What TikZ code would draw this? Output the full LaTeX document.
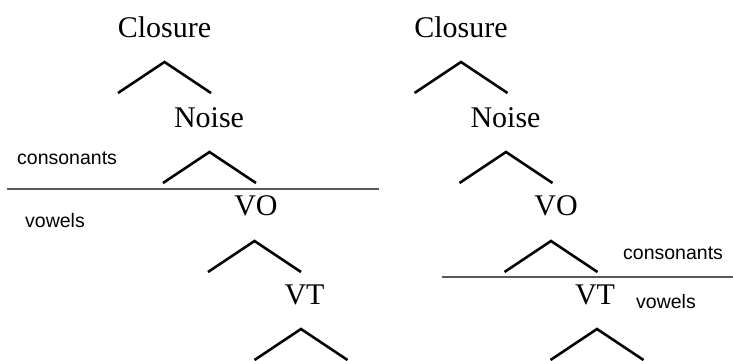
\documentclass[tikz,border=0pt]{standalone}
\usepackage{fontspec}
\setmainfont{Liberation Serif}
\setsansfont{Liberation Sans}
\begin{document}
\begin{tikzpicture}[x=1pt,y=-1pt,
  label/.style={font=\fontsize{30}{30}\selectfont, inner sep=0pt, anchor=base},
  side/.style={font=\sffamily\fontsize{19.5}{19.5}\selectfont, inner sep=0pt, anchor=base west},
  caret/.style={line width=2.6pt, line join=miter},
  divider/.style={line width=1.4pt, draw=black!65}]
\useasboundingbox (0,0) rectangle (733,360);
\clip (0,0) rectangle (733,360);

% left tree
\node[label] (lc) at (164.5,37) {Closure};
\node[label] (ln) at (209,127.5) {Noise};
\node[label] (lvo) at (256,215.5) {VO};
\node[label] (lvt) at (304.5,304.5) {VT};
\coordinate (la1) at (164.5,62);
\coordinate (la2) at (209.5,152);
\coordinate (la3) at (254.5,241);
\coordinate (la4) at (301,329);
\foreach \a in {la1,la2,la3,la4}
  \draw[caret] (\a) ++(-46.5,31) -- (\a) -- ++(46.5,31);
\node[side] (lcons) at (17,164.5) {consonants};
\node[side] (lvow) at (25,227.5) {vowels};
\coordinate (ld1) at (7,189);
\coordinate (ld2) at (379,189);
\draw[divider] (ld1) -- (ld2);

% right tree
\node[label] (rc) at (461,37) {Closure};
\node[label] (rn) at (505.5,127.5) {Noise};
\node[label] (rvo) at (556,215.5) {VO};
\node[label] (rvt) at (595,304.5) {VT};
\coordinate (ra1) at (461,62);
\coordinate (ra2) at (506,152);
\coordinate (ra3) at (551,241);
\coordinate (ra4) at (597,329);
\foreach \a in {ra1,ra2,ra3,ra4}
  \draw[caret] (\a) ++(-46.5,31) -- (\a) -- ++(46.5,31);
\node[side] (rcons) at (623,259) {consonants};
\node[side] (rvow) at (636,308) {vowels};
\coordinate (rd1) at (442,277);
\coordinate (rd2) at (733,277);
\draw[divider] (rd1) -- (rd2);
\end{tikzpicture}
\end{document}
